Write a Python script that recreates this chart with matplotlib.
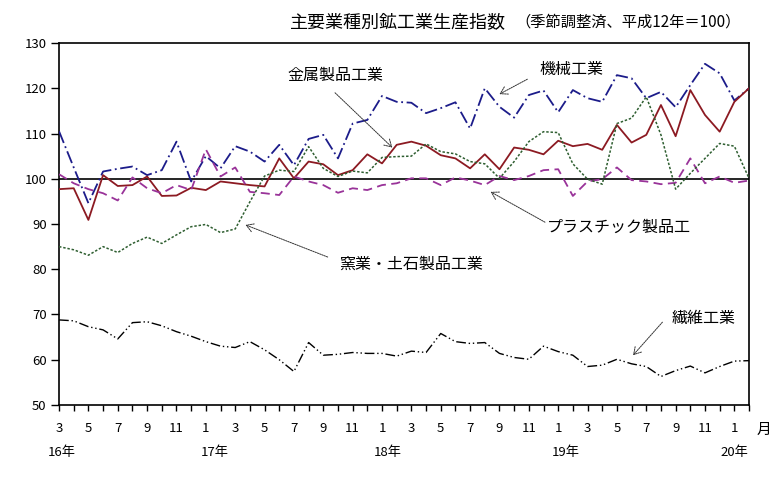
#!/usr/bin/env python
# coding: utf-8

import matplotlib

matplotlib.use("Agg")
import matplotlib.pyplot as plt
import numpy as np

# Constants
FONT_FAMILY = ["Noto Sans CJK JP", "DejaVu Sans"]
OUT_PATH = "out.png"

# Data (index, 3月 16年 .. 2月 20年)
MONTH_LABELS = [
    "3", "5", "7", "9", "11", "1",
    "3", "5", "7", "9", "11", "1",
    "3", "5", "7", "9", "11", "1",
    "3", "5", "7", "9", "11", "1",
]
YEAR_LABELS = ["16年", "17年", "18年", "19年", "20年"]

kikai = [
    110.5, 102.5, 94.6, 101.6, 102.2, 102.7, 100.8, 101.9, 108.2, 99.4, 105.0, 102.3,
    107.2, 106.0, 103.8, 107.5, 103.0, 108.8, 109.7, 104.5, 112.2, 113.0, 118.3, 117.0,
    116.8, 114.5, 115.6, 116.9, 111.1, 120.0, 115.9, 113.5, 118.5, 119.5, 114.7, 119.6,
    117.8, 117.0, 122.9, 122.2, 117.8, 119.2, 115.8, 120.7, 125.4, 123.3, 117.3, 120.0,
]
kinzoku = [
    97.7, 97.9, 90.9, 100.8, 98.4, 98.6, 100.5, 96.2, 96.3, 98.0, 97.5, 99.4,
    99.0, 98.6, 98.3, 104.5, 100.1, 103.8, 103.2, 100.8, 101.9, 105.4, 103.4, 107.5,
    108.2, 107.3, 105.2, 104.5, 102.3, 105.4, 102.1, 106.9, 106.4, 105.4, 108.4, 107.2,
    107.7, 106.4, 111.9, 108.0, 109.7, 116.3, 109.4, 119.6, 114.1, 110.4, 117.0, 120.0,
]
plastic = [
    101.0, 99.0, 97.7, 96.8, 95.2, 100.3, 97.9, 96.8, 98.6, 97.5, 106.5, 100.5,
    102.5, 97.1, 96.8, 96.4, 100.5, 99.4, 98.6, 96.9, 97.9, 97.5, 98.6, 99.0,
    100.1, 100.1, 98.6, 100.3, 99.6, 98.6, 100.6, 99.7, 100.6, 101.9, 102.1, 96.2,
    99.4, 99.9, 102.5, 99.7, 99.4, 98.8, 99.1, 104.5, 99.0, 100.5, 99.1, 99.6,
]
yogyo = [
    85.0, 84.3, 83.1, 85.0, 83.7, 85.7, 87.1, 85.7, 87.6, 89.4, 89.9, 88.1,
    88.9, 94.9, 100.6, 101.9, 101.6, 107.1, 102.3, 100.5, 101.7, 101.3, 104.7, 104.9,
    105.0, 107.7, 106.0, 105.5, 103.8, 103.3, 100.1, 103.8, 108.2, 110.4, 110.2, 103.3,
    99.9, 98.8, 112.2, 113.4, 118.1, 109.7, 97.7, 101.2, 104.5, 107.8, 107.2, 100.1,
]
seni = [
    68.8, 68.6, 67.3, 66.6, 64.6, 68.2, 68.4, 67.5, 66.2, 65.2, 64.0, 63.0,
    62.7, 64.0, 62.2, 60.0, 57.4, 63.8, 61.0, 61.2, 61.6, 61.4, 61.4, 60.8,
    61.9, 61.6, 65.8, 64.0, 63.6, 63.8, 61.4, 60.5, 60.1, 63.0, 61.8, 61.0,
    58.5, 58.8, 60.1, 59.1, 58.5, 56.3, 57.6, 58.6, 57.1, 58.5, 59.7, 59.8,
]

# Year label x positions (index units) and annotation layout
YEAR_POS = [0.2, 10.6, 22.4, 34.5, 46.0]
ANNOTATIONS = [
    # text, text xy, arrow tail, arrow head, ha
    ("金属製品工業", (18.8, 122.9), (18.8, 119.0), (22.7, 106.9), "center"),
    ("機械工業", (34.9, 124.2), (31.9, 122.0), (30.0, 118.7), "center"),
    ("プラスチック製品工", (33.2, 89.3), (33.1, 90.4), (29.4, 97.1), "left"),
    ("窯業・土石製品工業", (19.1, 81.1), (18.3, 82.7), (12.7, 89.8), "left"),
    ("繊維工業", (41.7, 69.2), (41.1, 68.3), (39.1, 61.0), "left"),
]


def plot_chart(out_path: str) -> None:
    plt.rcParams["font.family"] = FONT_FAMILY

    fig = plt.figure(figsize=(7.84, 4.86), dpi=100)
    ax = fig.add_axes([0.0753, 0.1667, 0.8801, 0.7448])

    x = np.arange(len(kikai))

    # reference line at 100
    ax.axhline(100, color="black", linewidth=1.2, zorder=1)

    ax.plot(x, kikai, color="#1c1c8a", linewidth=1.3,
            linestyle=(0, (7, 2, 1, 2)), zorder=3)
    ax.plot(x, kinzoku, color="#8c1a22", linewidth=1.3, zorder=3)
    ax.plot(x, plastic, color="#993399", linewidth=1.3,
            linestyle=(0, (5, 3)), zorder=3)
    ax.plot(x, yogyo, color="#2e5e30", linewidth=1.1,
            linestyle=(0, (1.6, 1.2)), zorder=3)
    ax.plot(x, seni, color="black", linewidth=1.0,
            linestyle=(0, (7, 2, 1, 2, 1, 2)), zorder=3)

    ax.set_xlim(0, len(kikai) - 1)
    ax.set_ylim(50, 130)
    ax.set_yticks(np.arange(50, 131, 10))

    ax.set_xticks(x[::2])
    ax.set_xticklabels(MONTH_LABELS)
    ax.set_xticks(x[1::2], minor=True)
    ax.tick_params(axis="x", which="both", direction="out", length=4,
                   width=1, pad=8, labelsize=9.5)
    ax.tick_params(axis="y", direction="out", length=6, width=1,
                   pad=3, labelsize=9.5)

    for spine in ax.spines.values():
        spine.set_linewidth(1.2)

    xtrans = ax.get_xaxis_transform()
    for pos, label in zip(YEAR_POS, YEAR_LABELS):
        ax.text(pos, -0.13, label, transform=xtrans, ha="center",
                va="center", fontsize=9.5)
    ax.text(48.0, -0.069, "月", transform=xtrans, ha="center",
            va="center", fontsize=10.5, clip_on=False)

    for text, txy, tail, head, ha in ANNOTATIONS:
        ax.text(txy[0], txy[1], text, ha=ha, va="center", fontsize=11.5)
        ax.annotate("", xy=head, xytext=tail,
                    arrowprops=dict(arrowstyle="->,head_length=0.5,head_width=0.3",
                                    color="#333333", linewidth=0.7,
                                    linestyle=(0, (1.5, 1)),
                                    shrinkA=0, shrinkB=0))

    fig.text(0.37, 0.955, "主要業種別鉱工業生産指数", fontsize=13,
             ha="left", va="center")
    fig.text(0.657, 0.955, "（季節調整済、平成12年＝100）", fontsize=11,
             ha="left", va="center")

    fig.savefig(out_path, dpi=100)


def main() -> None:
    plot_chart(OUT_PATH)


if __name__ == "__main__":
    main()
